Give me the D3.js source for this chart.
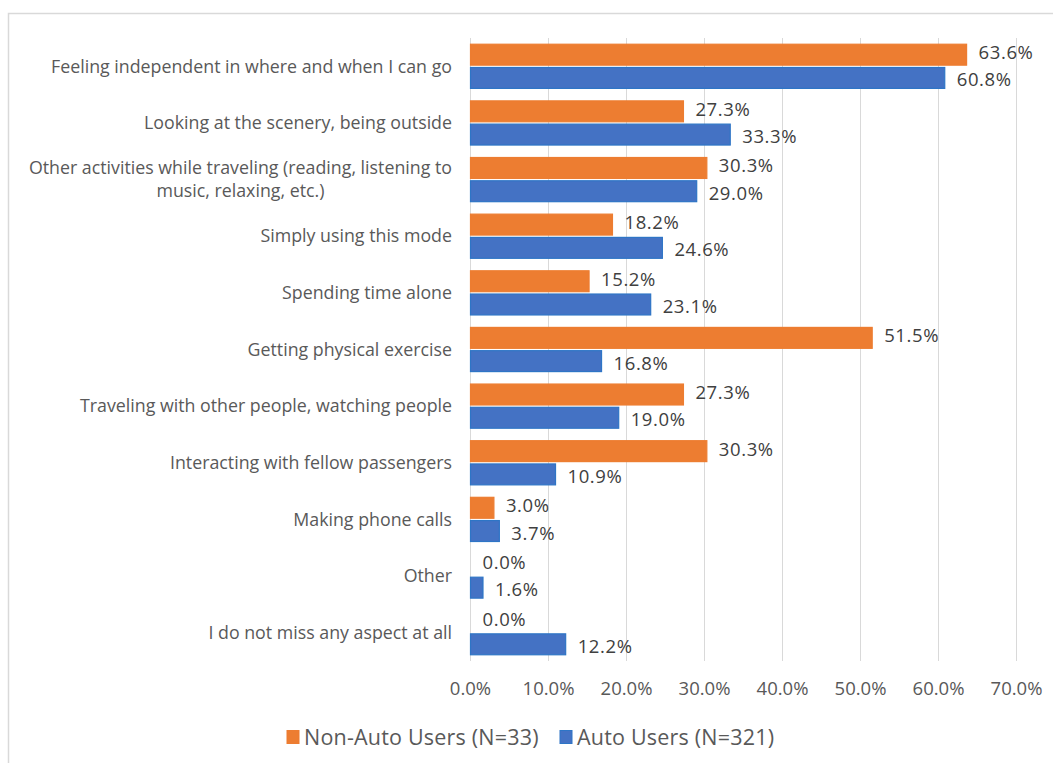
<!DOCTYPE html>
<html>
<head>
<meta charset="utf-8">
<script src="https://cdn.jsdelivr.net/npm/d3@7"></script>
<style>
  html, body { margin: 0; padding: 0; background: #fff; }
  svg { display: block; }
  text { font-family: "Open Sans", "Noto Sans", sans-serif; }
</style>
</head>
<body>
<svg id="chart" width="1053" height="763"></svg>
<script>
// Aspects missed, share of respondents per group
const categories = [
  "Feeling independent in where and when I can go",
  "Looking at the scenery, being outside",
  "Other activities while traveling (reading, listening to|music, relaxing, etc.)",
  "Simply using this mode",
  "Spending time alone",
  "Getting physical exercise",
  "Traveling with other people, watching people",
  "Interacting with fellow passengers",
  "Making phone calls",
  "Other",
  "I do not miss any aspect at all"
];
const nonAutoUsers = [63.6, 27.3, 30.3, 18.2, 15.2, 51.5, 27.3, 30.3, 3.0, 0.0, 0.0];
const autoUsers    = [60.8, 33.3, 29.0, 24.6, 23.1, 16.8, 19.0, 10.9, 3.7, 1.6, 12.2];
const seriesNames  = ["Non-Auto Users (N=33)", "Auto Users (N=321)"];
const xTicks       = [0, 10, 20, 30, 40, 50, 60, 70];

const colors  = ["#ed7d31", "#4472c4"];
const strokes = ["#ed7d31", "#2e75c6"];

const svg = d3.select("#chart");

// outer chart frame
svg.append("rect")
  .attr("x", 8.5).attr("y", 13.5)
  .attr("width", 1100).attr("height", 800)
  .attr("fill", "none").attr("stroke", "#d9d9d9").attr("stroke-width", 1.5);

const plot = { left: 470, right: 1016, top: 38, bottom: 661 };

const x = d3.scaleLinear().domain([0, 70]).range([plot.left, plot.right]);
const y = d3.scaleBand().domain(d3.range(categories.length))
  .range([plot.top, plot.bottom]).paddingInner(0.22).paddingOuter(0.11);
const ySeries = d3.scaleBand().domain([0, 1]).range([0, y.bandwidth()]).paddingInner(0.1);

// vertical gridlines
svg.append("g").selectAll("line").data(xTicks).join("line")
  .attr("x1", d => Math.round(x(d)) + 0.5).attr("x2", d => Math.round(x(d)) + 0.5)
  .attr("y1", plot.top).attr("y2", plot.bottom)
  .attr("stroke", "#d9d9d9").attr("stroke-width", 1);

// x axis labels
const xAxis = d3.axisBottom(x).tickValues(xTicks).tickFormat(d => d3.format(".1f")(d) + "%").tickSize(0).tickPadding(21);
const gx = svg.append("g").attr("transform", `translate(0,${plot.bottom})`).call(xAxis);
gx.select(".domain").remove();
gx.selectAll("text").attr("fill", "#595959").style("font-size", "18.5px")
  .style("font-family", "'Open Sans', 'Noto Sans', sans-serif");

// category labels
const labelRight = 452;
const catG = svg.append("g");
categories.forEach((c, i) => {
  const lines = c.split("|");
  const cy = y(i) + y.bandwidth() / 2;
  const t = catG.append("text").attr("fill", "#595959").style("font-size", "17.8px");
  if (lines.length === 1) {
    t.attr("x", labelRight).attr("y", cy).attr("dy", "0.35em").attr("text-anchor", "end").text(c);
  } else {
    const lh = 23;
    lines.forEach((ln, k) => {
      t.append("tspan").attr("x", 0).attr("y", cy + (k - (lines.length - 1) / 2) * lh)
        .attr("dy", "0.35em").attr("text-anchor", "middle").text(ln);
    });
    const w = d3.max(t.selectAll("tspan").nodes(), n => n.getComputedTextLength());
    t.selectAll("tspan").attr("x", labelRight - w / 2);
  }
});

// bars with value labels (labels nudged apart so the pair stays legible)
const series = [nonAutoUsers, autoUsers];
const labelNudge = [-2, 2];
series.forEach((vals, s) => {
  const g = svg.append("g");
  g.selectAll("rect").data(vals).join("rect")
    .attr("x", x(0) + 0.5)
    .attr("y", (d, i) => y(i) + ySeries(s))
    .attr("width", d => Math.max(0, x(d) - x(0)))
    .attr("height", ySeries.bandwidth())
    .attr("fill", colors[s])
    .attr("stroke", d => d > 0 ? strokes[s] : "none")
    .attr("stroke-width", 1.2);
  g.selectAll("text").data(vals).join("text")
    .attr("x", d => x(d) + 12.5)
    .attr("y", (d, i) => y(i) + ySeries(s) + ySeries.bandwidth() / 2 + labelNudge[s])
    .attr("dy", "0.35em")
    .attr("fill", "#404040")
    .style("font-size", "18.5px")
    .style("letter-spacing", "0.6px")
    .text(d => d3.format(".1f")(d) + "%");
});

// legend
const legend = svg.append("g").attr("transform", "translate(0,737)");
const legendX = [287, 560];
seriesNames.forEach((n, s) => {
  legend.append("rect").attr("x", legendX[s]).attr("y", -6.5).attr("width", 12).attr("height", 13)
    .attr("fill", colors[s]).attr("stroke", strokes[s]);
  legend.append("text").attr("x", legendX[s] + 17).attr("y", 0).attr("dy", "0.35em")
    .attr("fill", "#595959").style("font-size", "21.5px").style("letter-spacing", "0.2px").text(n);
});
</script>
</body>
</html>
